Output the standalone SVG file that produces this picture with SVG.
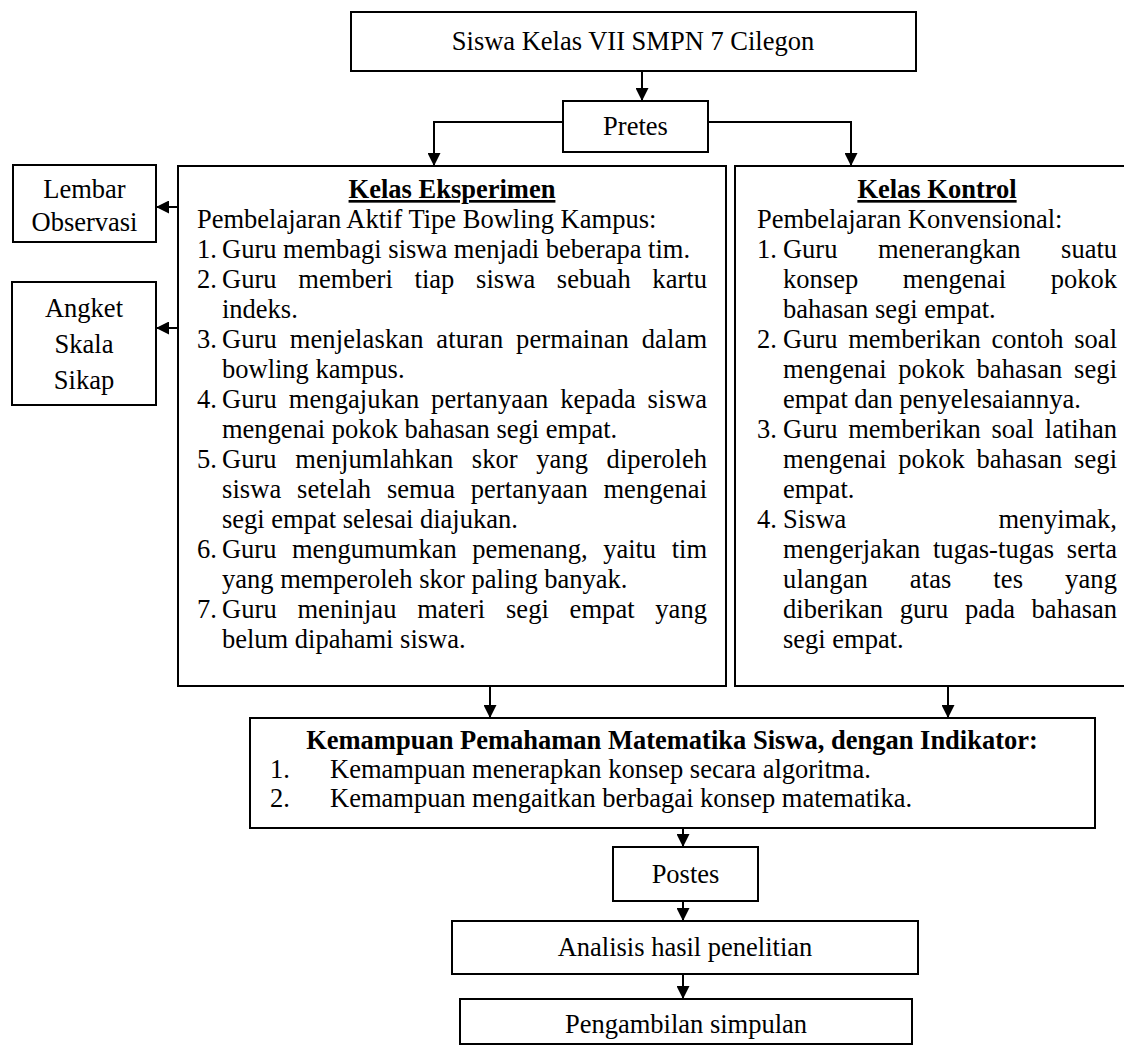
<svg xmlns="http://www.w3.org/2000/svg" width="1124" height="1046" viewBox="0 0 1124 1046">
<defs>
<marker id="ah" markerUnits="userSpaceOnUse" markerWidth="14" markerHeight="13" refX="13" refY="6.5" orient="auto">
<path d="M0,0 L13,6.5 L0,13 z" fill="#000"/>
</marker>
<style>
.box{fill:#fff;stroke:#000;stroke-width:2}
.t{font-family:"Liberation Serif","Times New Roman",serif;font-size:26.5px;fill:#000}
.c{text-anchor:middle}
.b{font-weight:bold}
.u{text-decoration:underline}
.ln{fill:none;stroke:#000;stroke-width:2;marker-end:url(#ah)}
</style>
</defs>
<rect width="1124" height="1046" fill="#fff"/>

<g id="siswa">
<rect class="box" x="351" y="12" width="565" height="59"/>
<text class="t c" x="633" y="50">Siswa Kelas VII SMPN 7 Cilegon</text>
</g>

<g id="pretes">
<rect class="box" x="563" y="101" width="145" height="51"/>
<text class="t c" x="635.5" y="135">Pretes</text>
</g>

<g id="lembar-observasi">
<rect class="box" x="13" y="165" width="143" height="77"/>
<text class="t c" x="84.5" y="198">Lembar</text>
<text class="t c" x="84.5" y="231">Observasi</text>
</g>

<g id="angket">
<rect class="box" x="12" y="282" width="144" height="123"/>
<text class="t c" x="84" y="317">Angket</text>
<text class="t c" x="84" y="353">Skala</text>
<text class="t c" x="84" y="389">Sikap</text>
</g>

<g id="kelas-eksperimen">
<rect class="box" x="178" y="166" width="548" height="520"/>
<text class="t c b u" x="452" y="198">Kelas Eksperimen</text>
<text class="t" x="197" y="228">Pembelajaran Aktif Tipe Bowling Kampus:</text>
<text class="t" x="197" y="258">1.</text>
<text class="t" x="222" y="258">Guru membagi siswa menjadi beberapa tim.</text>
<text class="t" x="197" y="288">2.</text>
<text class="t" x="222" y="288" textLength="485" lengthAdjust="spacing" style="word-spacing:15px">Guru memberi tiap siswa sebuah kartu</text>
<text class="t" x="222" y="318">indeks.</text>
<text class="t" x="197" y="348">3.</text>
<text class="t" x="222" y="348" textLength="485" lengthAdjust="spacing" style="word-spacing:6px">Guru menjelaskan aturan permainan dalam</text>
<text class="t" x="222" y="378">bowling kampus.</text>
<text class="t" x="197" y="408">4.</text>
<text class="t" x="222" y="408" textLength="485" lengthAdjust="spacing" style="word-spacing:5px">Guru mengajukan pertanyaan kepada siswa</text>
<text class="t" x="222" y="438">mengenai pokok bahasan segi empat.</text>
<text class="t" x="197" y="468">5.</text>
<text class="t" x="222" y="468" textLength="485" lengthAdjust="spacing" style="word-spacing:12px">Guru menjumlahkan skor yang diperoleh</text>
<text class="t" x="222" y="498" textLength="485" lengthAdjust="spacing" style="word-spacing:9px">siswa setelah semua pertanyaan mengenai</text>
<text class="t" x="222" y="528">segi empat selesai diajukan.</text>
<text class="t" x="197" y="558">6.</text>
<text class="t" x="222" y="558" textLength="485" lengthAdjust="spacing" style="word-spacing:9px">Guru mengumumkan pemenang, yaitu tim</text>
<text class="t" x="222" y="588">yang memperoleh skor paling banyak.</text>
<text class="t" x="197" y="618">7.</text>
<text class="t" x="222" y="618" textLength="485" lengthAdjust="spacing" style="word-spacing:14px">Guru meninjau materi segi empat yang</text>
<text class="t" x="222" y="648">belum dipahami siswa.</text>
</g>

<g id="kelas-kontrol">
<rect class="box" x="735" y="166" width="404" height="520"/>
<text class="t c b u" x="937" y="198">Kelas Kontrol</text>
<text class="t" x="757" y="228">Pembelajaran Konvensional:</text>
<text class="t" x="757" y="258">1.</text>
<text class="t" x="783" y="258" textLength="334" lengthAdjust="spacing" style="word-spacing:34px">Guru menerangkan suatu</text>
<text class="t" x="783" y="288" textLength="334" lengthAdjust="spacing" style="word-spacing:38px">konsep mengenai pokok</text>
<text class="t" x="783" y="318">bahasan segi empat.</text>
<text class="t" x="757" y="348">2.</text>
<text class="t" x="783" y="348" textLength="334" lengthAdjust="spacing" style="word-spacing:4px">Guru memberikan contoh soal</text>
<text class="t" x="783" y="378" textLength="334" lengthAdjust="spacing" style="word-spacing:5px">mengenai pokok bahasan segi</text>
<text class="t" x="783" y="408">empat dan penyelesaiannya.</text>
<text class="t" x="757" y="438">3.</text>
<text class="t" x="783" y="438" textLength="334" lengthAdjust="spacing" style="word-spacing:4px">Guru memberikan soal latihan</text>
<text class="t" x="783" y="468" textLength="334" lengthAdjust="spacing" style="word-spacing:5px">mengenai pokok bahasan segi</text>
<text class="t" x="783" y="498">empat.</text>
<text class="t" x="757" y="528">4.</text>
<text class="t" x="783" y="528">Siswa</text>
<text class="t" x="1117" y="528" text-anchor="end">menyimak,</text>
<text class="t" x="783" y="558" textLength="334" lengthAdjust="spacing" style="word-spacing:6px">mengerjakan tugas-tugas serta</text>
<text class="t" x="783" y="588" textLength="334" lengthAdjust="spacing" style="word-spacing:35px">ulangan atas tes yang</text>
<text class="t" x="783" y="618" textLength="334" lengthAdjust="spacing" style="word-spacing:10px">diberikan guru pada bahasan</text>
<text class="t" x="783" y="648">segi empat.</text>
</g>

<g id="kemampuan">
<rect class="box" x="250" y="718" width="845" height="110"/>
<text class="t c b" x="672" y="749">Kemampuan Pemahaman Matematika Siswa, dengan Indikator:</text>
<text class="t" x="270" y="778">1.</text>
<text class="t" x="330" y="778">Kemampuan menerapkan konsep secara algoritma.</text>
<text class="t" x="270" y="807">2.</text>
<text class="t" x="330" y="807">Kemampuan mengaitkan berbagai konsep matematika.</text>
</g>

<g id="postes">
<rect class="box" x="613" y="847" width="145" height="54"/>
<text class="t c" x="685.5" y="883">Postes</text>
</g>

<g id="analisis">
<rect class="box" x="452" y="921" width="466" height="53"/>
<text class="t c" x="685" y="956">Analisis hasil penelitian</text>
</g>

<g id="pengambilan">
<rect class="box" x="460" y="999" width="452" height="45"/>
<text class="t c" x="686" y="1033">Pengambilan simpulan</text>
</g>

<g id="connectors">
<path class="ln" d="M642,71 V101"/>
<path class="ln" d="M563,122 H434 V166"/>
<path class="ln" d="M708,122 H851 V166"/>
<path class="ln" d="M178,207 H156"/>
<path class="ln" d="M178,328 H156"/>
<path class="ln" d="M490,686 V718"/>
<path class="ln" d="M948,686 V718"/>
<path class="ln" d="M683,828 V847"/>
<path class="ln" d="M683,901 V921"/>
<path class="ln" d="M683,974 V999"/>
</g>
</svg>
